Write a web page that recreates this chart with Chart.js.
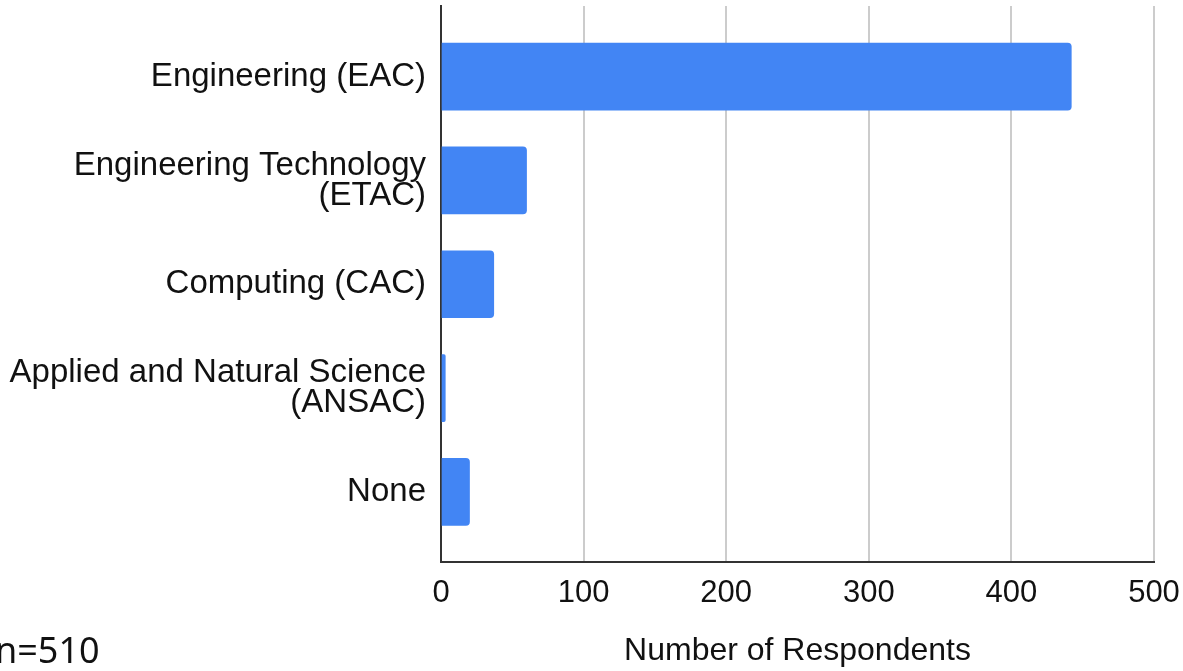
<!DOCTYPE html>
<html>
<head>
  <title>Accreditation Commission</title>
  <script src="https://cdn.jsdelivr.net/npm/chart.js"></script>
  <style>
    body { margin: 0; background: #fff; }
    #wrap { width: 1183px; height: 671px; position: relative; }
  </style>
</head>
<body>
  <div id="wrap"><canvas id="barChart"></canvas></div>

  <script>
    // categories (multi-line labels as arrays)
    const categories = [
      ['Engineering (EAC)'],
      ['Engineering Technology', '(ETAC)'],
      ['Computing (CAC)'],
      ['Applied and Natural Science', '(ANSAC)'],
      ['None']
    ];
    const respondents = [442, 60, 37, 3, 20];
    const xTicks = [0, 100, 200, 300, 400, 500];
    const sampleNote = 'n=510';

    const font = "'Liberation Sans', Arial, sans-serif";

    // small "n=510" note in the bottom-left corner
    const notePlugin = {
      id: 'note',
      afterDraw(chart) {
        const ctx = chart.ctx;
        ctx.save();
        ctx.font = "36px 'Noto Sans', sans-serif";
        ctx.fillStyle = '#111';
        ctx.textBaseline = 'alphabetic';
        ctx.textAlign = 'left';
        ctx.fillText(sampleNote, -5, 663);
        ctx.restore();
      }
    };

    const ctx = document.getElementById('barChart').getContext('2d');
    new Chart(ctx, {
      type: 'bar',
      data: {
        datasets: [{
          data: respondents.map((v, i) => ({ x: v, y: i })),
          backgroundColor: '#4285F4',
          borderRadius: 4,
          barThickness: 67
        }]
      },
      options: {
        indexAxis: 'y',
        responsive: true,
        maintainAspectRatio: false,
        animation: false,
        layout: { padding: { left: 0, top: 6, right: 29, bottom: 0 } },
        plugins: {
          legend: { display: false },
          tooltip: { enabled: false }
        },
        scales: {
          x: {
            type: 'linear',
            min: 0,
            max: 500,
            afterBuildTicks: s => { s.ticks = xTicks.map(v => ({ value: v })); },
            afterFit: s => { s.height = 109; s.paddingLeft = 0; s.paddingRight = 0; },
            grid: {
              color: c => c.tick && c.tick.value === 0 ? 'rgba(0,0,0,0)' : '#cccccc',
              lineWidth: 2,
              drawTicks: false
            },
            border: { display: true, color: '#333', width: 2 },
            ticks: {
              padding: 13,
              color: '#111',
              font: { family: font, size: 31 }
            },
            title: {
              display: true,
              text: 'Number of Respondents',
              color: '#111',
              padding: { top: 0, bottom: 1 },
              font: { family: font, size: 32 }
            }
          },
          y: {
            type: 'linear',
            reverse: true,
            offset: false,
            min: -0.68,
            max: 4.675,
            afterBuildTicks: s => { s.ticks = categories.map((c, i) => ({ value: i })); },
            afterFit: s => { s.width = 441; s.paddingTop = 0; s.paddingBottom = 0; },
            grid: { display: false, drawTicks: false },
            border: { display: true, color: '#333', width: 2 },
            ticks: {
              padding: 15,
              color: '#111',
              font: { family: font, size: 33, lineHeight: 0.91 },
              callback: v => categories[v]
            }
          }
        }
      },
      plugins: [notePlugin]
    });
  </script>
</body>
</html>
